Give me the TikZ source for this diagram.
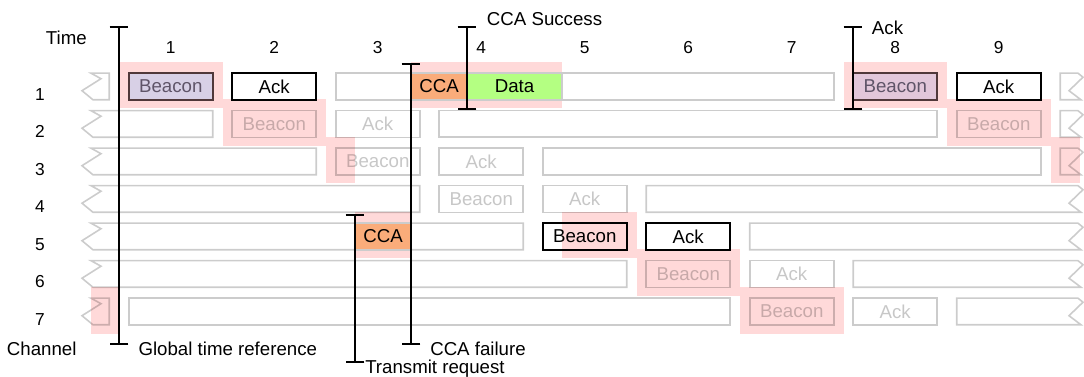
\documentclass[tikz,border=0pt]{standalone}
\usepackage{fontspec}
\setmainfont{Liberation Sans}
\usetikzlibrary{arrows.meta}

\definecolor{trace}{RGB}{255,217,217}
\definecolor{ccafill}{RGB}{250,172,122}
\definecolor{datafill}{RGB}{180,255,130}
\definecolor{heardA}{RGB}{216,208,230}
\definecolor{heardB}{RGB}{226,199,218}
\definecolor{heardline}{RGB}{80,56,58}
\definecolor{heardtext}{RGB}{95,84,104}

\begin{document}
\begin{tikzpicture}[
    x = 0.75pt, y = -0.75pt,
    every node/.style = {font = \fontsize{14}{16}\selectfont},
    note/.style = {inner sep = 0pt},
    num/.style = {inner sep = 0pt, font = \fontsize{13}{15}\selectfont},
    idle/.style = {draw = black, draw opacity = 0.2, line width = 1.2pt},
    slot/.style = {draw, line width = 1.2pt,
      minimum width = 63pt, minimum height = 20pt, inner sep = 0pt},
    faded/.style = {slot, draw opacity = 0.2, text opacity = 0.22},
    awake/.style = {slot, line width = 1.5pt},
    heard/.style = {slot, line width = 1.5pt, draw = heardline, text = heardtext},
    cca/.style = {slot, draw = black!20, fill = ccafill, minimum width = 42pt},
    data/.style = {slot, draw = black!20, fill = datafill, minimum width = 71.25pt},
    tbar/.style = {{Bar[width = 14pt]}-{Bar[width = 14pt]}, line width = 1.5pt}
    ]
    \useasboundingbox (0, 0) rectangle (1084, 377);
    \fill [white] (0, 0) rectangle (1084, 377);

    \fill [trace] (91, 287.5) rectangle (119, 334);
    \fill [trace] (119, 62) rectangle (222.5, 108.5);
    \fill [trace] (222.5, 99.5) rectangle (326, 146);
    \fill [trace] (326, 137) rectangle (354.5, 183.5);
    \fill [trace] (354.5, 212) rectangle (411, 258.5);
    \fill [trace] (411, 62) rectangle (562, 108.5);
    \fill [trace] (562, 212) rectangle (636.5, 258.5);
    \fill [trace] (636.5, 249.5) rectangle (740, 296);
    \fill [trace] (740, 287) rectangle (843.5, 333.5);
    \fill [trace] (843.5, 62) rectangle (947, 108.5);
    \fill [trace] (947, 99.5) rectangle (1050.5, 146);
    \fill [trace] (1050.5, 137) rectangle (1080, 183.5);

    \draw [idle] (109.25, 73.2) -- (91, 73.2) -- (101, 78.7) -- (82, 90.7) -- (93, 99.8) -- (109.25, 99.8) -- cycle;
    \draw [idle] (212.75, 110.7) -- (91, 110.7) -- (101, 116.2) -- (82, 128.2) -- (93, 137.3) -- (212.75, 137.3) -- cycle;
    \draw [idle] (316.25, 148.2) -- (91, 148.2) -- (101, 153.7) -- (82, 165.7) -- (93, 174.8) -- (316.25, 174.8) -- cycle;
    \draw [idle] (419.75, 185.7) -- (91, 185.7) -- (101, 191.2) -- (82, 203.2) -- (93, 212.3) -- (419.75, 212.3) -- cycle;
    \draw [idle] (523.25, 223.2) -- (91, 223.2) -- (101, 228.7) -- (82, 240.7) -- (93, 249.8) -- (523.25, 249.8) -- cycle;
    \draw [idle] (626.75, 260.7) -- (91, 260.7) -- (101, 266.2) -- (82, 278.2) -- (93, 287.3) -- (626.75, 287.3) -- cycle;
    \draw [idle] (109.25, 298.2) -- (91, 298.2) -- (101, 303.7) -- (82, 315.7) -- (93, 324.8) -- (109.25, 324.8) -- cycle;

    \draw [idle] (1060.25, 73.2) -- (1078, 73.2) -- (1083, 77.2) -- (1069, 90.7) -- (1081, 99.8) -- (1060.25, 99.8) -- cycle;
    \draw [idle] (1060.25, 110.7) -- (1078, 110.7) -- (1083, 114.7) -- (1069, 128.2) -- (1081, 137.3) -- (1060.25, 137.3) -- cycle;
    \draw [idle] (1060.25, 148.2) -- (1078, 148.2) -- (1083, 152.2) -- (1069, 165.7) -- (1081, 174.8) -- (1060.25, 174.8) -- cycle;
    \draw [idle] (646.25, 185.7) -- (1078, 185.7) -- (1083, 189.7) -- (1069, 203.2) -- (1081, 212.3) -- (646.25, 212.3) -- cycle;
    \draw [idle] (749.75, 223.2) -- (1078, 223.2) -- (1083, 227.2) -- (1069, 240.7) -- (1081, 249.8) -- (749.75, 249.8) -- cycle;
    \draw [idle] (853.25, 260.7) -- (1078, 260.7) -- (1083, 264.7) -- (1069, 278.2) -- (1081, 287.3) -- (853.25, 287.3) -- cycle;
    \draw [idle] (956.75, 298.2) -- (1078, 298.2) -- (1083, 302.2) -- (1069, 315.7) -- (1081, 324.8) -- (956.75, 324.8) -- cycle;

    \draw [idle] (335.75, 73.2) rectangle (833.75, 99.8);
    \draw [idle] (439.25, 110.7) rectangle (937.25, 137.3);
    \draw [idle] (542.75, 148.2) rectangle (1040.75, 174.8);
    \draw [idle] (128.75, 298.2) rectangle (730.25, 324.8);

    \node at (170.75, 86.5) [heard, fill = heardA, name = b1s1] {Beacon};
    \node at (274.25, 86.5) [awake, name = a1s2] {Ack};
    \node at (439, 86.5) [cca, name = cca1] {CCA};
    \node at (514.5, 86.5) [data, name = data1] {Data};
    \node at (895.25, 86.5) [heard, fill = heardB, name = b1s8] {Beacon};
    \node at (998.75, 86.5) [awake, name = a1s9] {Ack};

    \node at (274.25, 124) [faded, name = b2s2] {Beacon};
    \node at (377.75, 124) [faded, name = a2s3] {Ack};
    \node at (998.75, 124) [faded, name = b2s9] {Beacon};

    \node at (377.75, 161.5) [faded, name = b3s3] {Beacon};
    \node at (481.25, 161.5) [faded, name = a3s4] {Ack};

    \node at (481.25, 199) [faded, name = b4s4] {Beacon};
    \node at (584.75, 199) [faded, name = a4s5] {Ack};

    \node at (383, 236.5) [cca, name = cca5] {CCA};
    \node at (584.75, 236.5) [awake, name = b5s5] {Beacon};
    \node at (688.25, 236.5) [awake, name = a5s6] {Ack};

    \node at (688.25, 274) [faded, name = b6s6] {Beacon};
    \node at (791.75, 274) [faded, name = a6s7] {Ack};

    \node at (791.75, 311.5) [faded, name = b7s7] {Beacon};
    \node at (895.25, 311.5) [faded, name = a7s8] {Ack};

    \node at (45.7, 45) [note, anchor = base west, name = time] {Time};
    \node at (170.75, 54) [num, anchor = base, name = t1] {1};
    \node at (274.25, 54) [num, anchor = base, name = t2] {2};
    \node at (377.75, 54) [num, anchor = base, name = t3] {3};
    \node at (481.25, 54) [num, anchor = base, name = t4] {4};
    \node at (584.75, 54) [num, anchor = base, name = t5] {5};
    \node at (688.25, 54) [num, anchor = base, name = t6] {6};
    \node at (791.75, 54) [num, anchor = base, name = t7] {7};
    \node at (895.25, 54) [num, anchor = base, name = t8] {8};
    \node at (998.75, 54) [num, anchor = base, name = t9] {9};

    \node at (40, 100.5) [num, anchor = base, name = c1] {1};
    \node at (40, 138) [num, anchor = base, name = c2] {2};
    \node at (40, 175.5) [num, anchor = base, name = c3] {3};
    \node at (40, 213) [num, anchor = base, name = c4] {4};
    \node at (40, 250.5) [num, anchor = base, name = c5] {5};
    \node at (40, 288) [num, anchor = base, name = c6] {6};
    \node at (40, 325.5) [num, anchor = base, name = c7] {7};
    \node at (6.7, 355) [note, anchor = base west, name = channel] {Channel};

    \coordinate (gtop) at (119, 25.7);
    \coordinate (gbot) at (119, 345);
    \coordinate (stop) at (467, 25.7);
    \coordinate (sbot) at (467, 110);
    \coordinate (ktop) at (853, 25.7);
    \coordinate (kbot) at (853, 110);
    \coordinate (ftop) at (411, 62.7);
    \coordinate (fbot) at (411, 345);
    \coordinate (rtop) at (355, 214);
    \coordinate (rbot) at (355, 363.3);

    \draw [tbar] (gtop) -- (gbot);
    \draw [tbar] (stop) -- (sbot);
    \draw [tbar] (ktop) -- (kbot);
    \draw [tbar] (ftop) -- (fbot);
    \draw [tbar] (rtop) -- (rbot);

    \node at (138.3, 355) [note, anchor = base west, name = gref] {Global time reference};
    \node at (486.7, 26) [note, anchor = base west, name = success] {CCA Success};
    \node at (871.7, 34.3) [note, anchor = base west, name = acked] {Ack};
    \node at (430, 355) [note, anchor = base west, name = failure] {CCA failure};
    \node at (365, 373) [note, anchor = base west, name = request] {Transmit request};

  \end{tikzpicture}
\end{document}
